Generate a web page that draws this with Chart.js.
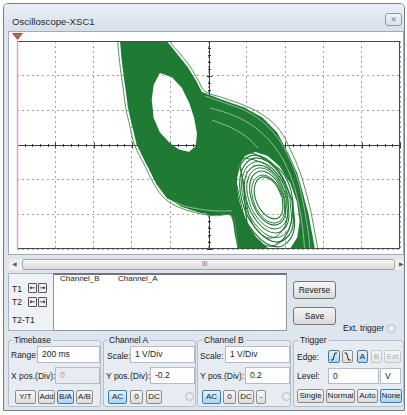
<!DOCTYPE html>
<html><head><meta charset="utf-8">
<script src="https://cdn.jsdelivr.net/npm/chart.js@4.4.1/dist/chart.umd.min.js"></script>
<style>
*{box-sizing:border-box}
body{margin:0;width:407px;height:415px;position:relative;overflow:hidden;background:#fff;font-family:"Liberation Sans",Arial,sans-serif;color:#1c1c1c}
.a{position:absolute}
.lbl{position:absolute;font-size:8.5px;line-height:10px;white-space:nowrap}
.inp{position:absolute;background:#fff;border:1px solid #b3bcc6;font-size:8.5px;line-height:15px;padding-left:4px;white-space:nowrap}
.btn{position:absolute;border:1px solid #8d8d8d;border-radius:2px;background:linear-gradient(#f7f7f7,#dcdcdc);font-size:8px;text-align:center;line-height:12px;height:14px;white-space:nowrap}
.btn.on{border-color:#3b7db3;background:linear-gradient(#e4f2fc,#a9d3f2)}
.btn.off{color:#a9b0b8;border-color:#c3c8cd;background:linear-gradient(#f5f6f7,#e6e9ec)}
.grp{position:absolute;top:340px;height:67px;border:1px solid #b4bec8;border-radius:3px;background:#e6ecf2}
.gt{position:absolute;top:335px;font-size:8.5px;line-height:10px;padding:0 2px;background:#dfe6ee}
.big{position:absolute;border:1px solid #777;border-radius:3px;background:linear-gradient(#f5f5f5,#dadada);font-size:8.5px;text-align:center;line-height:16px;height:18px;width:43px}
.arr{position:absolute;width:9px;height:10px;border:1px solid #555;border-radius:1px;background:#f2f2f2;font-family:"DejaVu Sans";font-size:7px;line-height:8px;text-align:center;font-weight:bold}
.radio{position:absolute;width:9px;height:9px;border-radius:50%;border:1px solid #b9bec4;background:radial-gradient(#f4f4f4,#d9dcdf)}
</style></head>
<body>
<!-- window chrome -->
<div class="a" style="left:3px;top:3px;width:402px;height:408px;border:1px solid #74808c;border-radius:5px 5px 0 0;background:#dde5ee"></div>
<div class="a" style="left:4px;top:4px;width:400px;height:27px;border-radius:4px 4px 0 0;background:linear-gradient(#e9eff6,#d6e0ea)"></div>
<div class="lbl" style="left:12px;top:16px;font-size:9.6px;line-height:11px;color:#2b2b2b">Oscilloscope-XSC1</div>
<div class="a" style="left:385px;top:13px;width:17px;height:13px;border:1px solid #8f9ba7;border-radius:3px;background:linear-gradient(#f2f5f8,#d8e0e9);font-family:'DejaVu Sans';font-size:8px;line-height:11px;text-align:center;color:#7a8591">✕</div>

<!-- plot panel -->
<div class="a" style="left:8px;top:31px;width:396px;height:224px;border:1px solid #a3abb4;background:#fff">
  <canvas id="scope" width="394" height="222" style="position:absolute;left:0;top:0"></canvas>
</div>

<!-- scrollbar -->
<div class="a" style="left:8px;top:258px;width:396px;height:13px;background:#f0f0f0;border:1px solid #e2e2e2"></div>
<div class="a" style="left:22px;top:259px;width:373px;height:11px;border:1px solid #a8a8a8;border-radius:2px;background:linear-gradient(#f6f6f6,#d9d9d9)"></div>
<div class="lbl" style="left:12px;top:259px;font-family:'DejaVu Sans';font-size:6px;color:#606060">◀</div>
<div class="lbl" style="left:202px;top:259px;font-size:6.5px;color:#6a6a6a">III</div>
<div class="lbl" style="left:399px;top:259px;font-family:'DejaVu Sans';font-size:6px;color:#606060">▶</div>

<!-- cursor / readout area -->
<div class="a" style="left:8px;top:273px;width:46px;height:58px;border:1px solid #a9b1ba;background:#eef2f6"></div>
<div class="a" style="left:53px;top:273px;width:234px;height:58px;border:1px solid #8f969d;border-top:2px solid #6f757b;background:#fff"></div>
<div class="lbl" style="left:12px;top:284px">T1</div>
<div class="lbl" style="left:12px;top:297px">T2</div>
<div class="lbl" style="left:12px;top:315px">T2-T1</div>
<div class="arr" style="left:28px;top:283px">←</div>
<div class="arr" style="left:38px;top:283px">→</div>
<div class="arr" style="left:28px;top:297px">←</div>
<div class="arr" style="left:38px;top:297px">→</div>
<div class="lbl" style="left:60px;top:274px;font-size:8px">Channel_B</div>
<div class="lbl" style="left:118px;top:274px;font-size:8px">Channel_A</div>
<div class="big" style="left:293px;top:281px">Reverse</div>
<div class="big" style="left:293px;top:307px">Save</div>
<div class="lbl" style="left:343px;top:323px">Ext. trigger</div>
<div class="radio" style="left:387px;top:324px"></div>

<!-- Timebase -->
<div class="grp" style="left:8px;width:93px"></div>
<div class="gt" style="left:12px">Timebase</div>
<div class="lbl" style="left:11px;top:350px">Range:</div>
<div class="inp" style="left:37px;top:346px;width:63px;height:17px">200 ms</div>
<div class="lbl" style="left:11px;top:371px">X pos.(Div):</div>
<div class="inp" style="left:55px;top:367px;width:45px;height:17px;background:#e8ecf0;color:#9aa3ac">0</div>
<div class="btn" style="left:15px;top:390px;width:21px">Y/T</div>
<div class="btn" style="left:38px;top:390px;width:17px">Add</div>
<div class="btn on" style="left:57px;top:390px;width:17px">B/A</div>
<div class="btn" style="left:76px;top:390px;width:17px">A/B</div>

<!-- Channel A -->
<div class="grp" style="left:103px;width:93px"></div>
<div class="gt" style="left:107px">Channel A</div>
<div class="lbl" style="left:107px;top:351px">Scale:</div>
<div class="inp" style="left:130px;top:346px;width:65px;height:17px">1 V/Div</div>
<div class="lbl" style="left:106px;top:371px">Y pos.(Div):</div>
<div class="inp" style="left:150px;top:367px;width:45px;height:17px">-0.2</div>
<div class="btn on" style="left:108px;top:390px;width:19px">AC</div>
<div class="btn" style="left:130px;top:390px;width:13px">0</div>
<div class="btn" style="left:146px;top:390px;width:16px">DC</div>
<div class="radio" style="left:185px;top:392px"></div>

<!-- Channel B -->
<div class="grp" style="left:197px;width:94px"></div>
<div class="gt" style="left:202px">Channel B</div>
<div class="lbl" style="left:200px;top:351px">Scale:</div>
<div class="inp" style="left:225px;top:346px;width:65px;height:17px">1 V/Div</div>
<div class="lbl" style="left:200px;top:371px">Y pos.(Div):</div>
<div class="inp" style="left:245px;top:367px;width:45px;height:17px">0.2</div>
<div class="btn on" style="left:202px;top:390px;width:19px">AC</div>
<div class="btn" style="left:223px;top:390px;width:13px">0</div>
<div class="btn" style="left:238px;top:390px;width:16px">DC</div>
<div class="btn" style="left:256px;top:390px;width:10px">-</div>
<div class="radio" style="left:282px;top:392px"></div>

<!-- Trigger -->
<div class="grp" style="left:293px;width:111px"></div>
<div class="gt" style="left:298px">Trigger</div>
<div class="lbl" style="left:297px;top:352px">Edge:</div>
<div class="btn on" style="left:328px;top:350px;width:12px;height:13px"><svg width="10" height="11" viewBox="0 0 10 11" style="display:block"><polyline points="2,9 4,9 6,2 8,2" fill="none" stroke="#222" stroke-width="1"/></svg></div>
<div class="btn" style="left:342px;top:350px;width:11px;height:13px"><svg width="9" height="11" viewBox="0 0 9 11" style="display:block"><polyline points="1.5,2 3.5,2 5.5,9 7.5,9" fill="none" stroke="#222" stroke-width="1"/></svg></div>
<div class="btn on" style="left:357px;top:350px;width:11px;height:13px">A</div>
<div class="btn off" style="left:371px;top:350px;width:11px;height:13px">B</div>
<div class="btn off" style="left:384px;top:350px;width:17px;height:13px">Ext</div>
<div class="lbl" style="left:297px;top:371px">Level:</div>
<div class="inp" style="left:328px;top:368px;width:51px;height:16px;line-height:14px">0</div>
<div class="inp" style="left:380px;top:368px;width:21px;height:16px;line-height:14px">V</div>
<div class="btn" style="left:297px;top:389px;width:27px">Single</div>
<div class="btn" style="left:326px;top:389px;width:29px">Normal</div>
<div class="btn" style="left:357px;top:389px;width:21px">Auto</div>
<div class="btn on" style="left:380px;top:389px;width:22px">None</div>

<script>
// ---- scope settings (1 V/Div, 10 x 6 divisions) ----
const xRange = [-5, 5];   // Channel A, volts
const yRange = [-3, 3];   // Channel B, volts
const divStep = 1;
const minorStep = 0.2;

// ---- traces, [Channel A (V), Channel B (V)] ----
const attractorOutline = [
  [-2.42,3.37],[-1.16,3.37],[-1.09,3.00],[-0.83,2.65],[-0.56,2.28],[-0.33,1.87],[-0.17,1.53],
  [0.30,1.33],[0.90,1.10],[1.42,0.78],[1.79,0.37],[2.07,-0.20],[2.31,-0.78],[2.46,-1.36],
  [2.60,-1.93],[2.70,-2.51],[2.78,-3.00],[2.80,-3.37],[0.82,-3.37],[0.77,-3.00],[0.69,-2.60],
  [0.64,-2.22],[0.58,-2.02],[0.17,-2.02],[-0.22,-1.96],[-0.69,-1.79],[-1.09,-1.53],[-1.35,-1.15],
  [-1.61,-0.58],[-1.87,0.00],[-2.00,0.58],[-2.10,1.07],[-2.18,1.73],[-2.26,2.39],[-2.31,3.00]
];
const leftScrollHole = [
  [-1.27,2.08],[-1.43,1.73],[-1.48,1.30],[-1.43,0.78],[-1.27,0.37],[-1.01,0.06],[-0.75,-0.14],
  [-0.51,-0.20],[-0.33,-0.03],[-0.30,0.35],[-0.38,0.81],[-0.51,1.24],[-0.69,1.64],[-0.96,1.96]
];
const rightScrollHole = [
  [2.31,-1.64],[2.13,-1.09],[1.86,-0.62],[1.54,-0.31],[1.22,-0.20],[0.96,-0.31],[0.79,-0.62],
  [0.73,-1.09],[0.79,-1.64],[0.98,-2.20],[1.25,-2.66],[1.56,-2.98],[1.88,-3.09],[2.14,-2.98],
  [2.32,-2.66],[2.38,-2.20]
];
const rightLoop0  = [[1.93,-1.53],[1.92,-1.96],[1.72,-2.13],[1.43,-1.96],[1.22,-1.53],[1.23,-1.10],[1.44,-0.92],[1.73,-1.10]];
const rightLoop0b = [[1.97,-1.56],[1.96,-2.05],[1.72,-2.25],[1.39,-2.05],[1.16,-1.56],[1.17,-1.07],[1.41,-0.87],[1.74,-1.07]];
const rightLoop1  = [[1.99,-1.53],[1.99,-2.08],[1.73,-2.31],[1.36,-2.08],[1.11,-1.53],[1.11,-0.98],[1.38,-0.75],[1.74,-0.98]];
const rightLoop1b = [[2.03,-1.54],[2.03,-2.17],[1.74,-2.42],[1.33,-2.17],[1.04,-1.54],[1.05,-0.92],[1.34,-0.66],[1.75,-0.92]];
const rightLoop2  = [[2.07,-1.56],[2.07,-2.25],[1.75,-2.54],[1.30,-2.25],[0.98,-1.56],[0.98,-0.87],[1.30,-0.58],[1.76,-0.87]];
const rightLoop2b = [[2.13,-1.57],[2.13,-2.35],[1.77,-2.67],[1.27,-2.35],[0.92,-1.57],[0.92,-0.80],[1.28,-0.48],[1.78,-0.80]];
const rightLoop3  = [[2.18,-1.59],[2.18,-2.44],[1.80,-2.80],[1.26,-2.44],[0.87,-1.59],[0.87,-0.73],[1.25,-0.37],[1.79,-0.73]];
const rightLoop3b = [[2.20,-1.62],[2.21,-2.55],[1.80,-2.94],[1.21,-2.55],[0.79,-1.62],[0.79,-0.68],[1.20,-0.29],[1.79,-0.68]];
const wedgeLoop1 = [
  [0.72,-0.14],[1.08,-0.20],[1.50,-0.43],[1.92,-0.78],[2.15,-1.30],[2.20,-1.93],[2.07,-2.51],
  [1.76,-2.88],[1.39,-2.86],[1.08,-2.51],[0.90,-1.93],[0.77,-1.30],[0.66,-0.66]
];
const wedgeLoop2 = [
  [0.82,-0.37],[1.19,-0.43],[1.55,-0.61],[1.86,-0.95],[2.05,-1.44],[2.07,-1.99],[1.94,-2.45],
  [1.66,-2.68],[1.37,-2.57],[1.13,-2.22],[1.00,-1.73],[0.92,-1.15],[0.85,-0.72]
];
const innerStrand = [[0.17,0.14],[0.56,-0.20],[0.82,-0.66],[0.92,-1.30],[0.98,-2.02],[1.08,-2.74],[1.16,-3.37]];
const leftEdgeStrand = [
  [-2.37,3.32],[-2.37,3.00],[-2.32,2.39],[-2.24,1.73],[-2.16,1.07],[-2.06,0.58],[-1.93,0.00],
  [-1.67,-0.58],[-1.41,-1.15],[-1.13,-1.56],[-0.74,-1.81],[-0.22,-1.98],[0.17,-2.04],[0.60,-2.04],
  [0.71,-2.43],[0.76,-3.00],[0.78,-3.37]
];
const rightEdgeStrand = [
  [-1.00,3.32],[-1.00,3.00],[-0.74,2.63],[-0.48,2.26],[-0.27,1.87],[-0.09,1.55],[0.36,1.37],
  [0.96,1.13],[1.48,0.82],[1.87,0.41],[2.15,-0.16],[2.38,-0.76],[2.54,-1.34],[2.67,-1.91],
  [2.77,-2.49],[2.85,-3.00],[2.88,-3.37]
];
// thin white gaps between bundles of traces inside the dense band
const bandGap1 = [[-0.09,1.41],[0.43,1.21],[0.98,0.98],[1.45,0.63],[1.81,0.20],[2.10,-0.35],[2.31,-0.92],[2.44,-1.50],[2.54,-2.08],[2.62,-2.65],[2.67,-3.37]];
const bandGap2 = [[0.04,1.07],[0.61,0.87],[1.08,0.61],[1.50,0.23],[1.84,-0.23],[2.10,-0.78],[2.28,-1.36],[2.41,-2.02],[2.49,-2.74],[2.52,-3.37]];
const bandGap3 = [[0.09,0.72],[0.61,0.49],[1.03,0.20],[1.29,-0.09]];
const bandGap4 = [[-1.01,-1.59],[-0.62,-1.76],[-0.22,-1.85],[0.17,-1.90],[0.61,-1.90]];

const TRACE = '#1f7a33';
const GAP = 'rgba(255,255,255,0.55)';
const toPts = arr => arr.map(([x, y]) => ({x, y}));
const loop = arr => toPts(arr.concat([arr[0]]));
// one outline with the two scroll holes cut out (keyhole path)
const massPath = [...attractorOutline, attractorOutline[0],
  ...leftScrollHole, leftScrollHole[0], attractorOutline[0],
  ...rightScrollHole, rightScrollHole[0], attractorOutline[0]];

const lineDs = (data, color, width, order) => ({
  data, showLine: true, borderColor: color, borderWidth: width, pointRadius: 0,
  tension: 0.4, fill: false, order
});

const scopeDecor = {
  id: 'scopeDecor',
  beforeDatasetsDraw(chart) {
    const {ctx, chartArea: a, scales: {x, y}} = chart;
    const x0 = Math.round(x.getPixelForValue(0)) + 0.5;
    const y0 = Math.round(y.getPixelForValue(0)) + 0.5;
    ctx.save();
    ctx.strokeStyle = '#3c3c3c';
    ctx.lineWidth = 1;
    ctx.beginPath();
    ctx.moveTo(a.left, y0); ctx.lineTo(a.right, y0);
    ctx.moveTo(x0, a.top); ctx.lineTo(x0, a.bottom);
    for (let v = xRange[0]; v <= xRange[1] + 1e-9; v += minorStep) {
      const p = Math.round(x.getPixelForValue(v)) + 0.5;
      const major = Math.abs(v - Math.round(v)) < 1e-6;
      ctx.moveTo(p, y0 - (major ? 3 : 1.5)); ctx.lineTo(p, y0 + (major ? 3 : 1.5));
    }
    for (let v = yRange[0]; v <= yRange[1] + 1e-9; v += minorStep) {
      const p = Math.round(y.getPixelForValue(v)) + 0.5;
      const major = Math.abs(v - Math.round(v)) < 1e-6;
      ctx.moveTo(x0 - (major ? 3 : 1.5), p); ctx.lineTo(x0 + (major ? 3 : 1.5), p);
    }
    ctx.stroke();
    ctx.restore();
  },
  afterDatasetsDraw(chart) {
    const {ctx, chartArea: a} = chart;
    ctx.save();
    ctx.strokeStyle = '#4a4a4a';
    ctx.lineWidth = 1;
    ctx.strokeRect(a.left + 0.5, a.top + 0.5, a.right - a.left - 1, a.bottom - a.top - 1);
    ctx.strokeStyle = '#d9a3d0';
    ctx.lineWidth = 1.5;
    ctx.beginPath(); ctx.moveTo(a.left + 0.5, a.top); ctx.lineTo(a.left + 0.5, a.bottom); ctx.stroke();
    ctx.fillStyle = '#d63b2b';
    ctx.beginPath(); ctx.moveTo(a.left - 5, a.top - 8); ctx.lineTo(a.left + 6, a.top - 8); ctx.lineTo(a.left + 0.5, a.top - 1); ctx.closePath(); ctx.fill();
    ctx.fillStyle = '#5aa04a';
    ctx.beginPath(); ctx.moveTo(a.left - 2.5, a.top - 7); ctx.lineTo(a.left + 3.5, a.top - 7); ctx.lineTo(a.left + 0.5, a.top - 3); ctx.closePath(); ctx.fill();
    ctx.restore();
  }
};

new Chart(document.getElementById('scope'), {
  type: 'scatter',
  data: {
    datasets: [
      lineDs(toPts(bandGap1), GAP, 0.9, 0),
      lineDs(toPts(bandGap2), GAP, 0.9, 0),
      lineDs(toPts(bandGap3), GAP, 0.9, 0),
      lineDs(toPts(bandGap4), GAP, 0.9, 0),
      lineDs(toPts(innerStrand), TRACE, 1.2, 1),
      lineDs(loop(rightLoop0), TRACE, 1.1, 1),
      lineDs(loop(rightLoop0b), TRACE, 1.0, 1),
      lineDs(loop(rightLoop1), TRACE, 1.1, 1),
      lineDs(loop(rightLoop1b), TRACE, 1.0, 1),
      lineDs(loop(rightLoop2), TRACE, 1.1, 1),
      lineDs(loop(rightLoop2b), TRACE, 1.0, 1),
      lineDs(loop(rightLoop3), TRACE, 1.2, 1),
      lineDs(loop(rightLoop3b), TRACE, 1.2, 1),
      lineDs(loop(wedgeLoop1), TRACE, 1.1, 1),
      lineDs(loop(wedgeLoop2), TRACE, 1.0, 1),
      lineDs(toPts(leftEdgeStrand), '#4d9559', 1, 2),
      lineDs(toPts(rightEdgeStrand), '#4d9559', 1, 2),
      {
        data: toPts(massPath), showLine: true, fill: 'shape', backgroundColor: TRACE,
        borderColor: 'rgba(0,0,0,0)', borderWidth: 0, pointRadius: 0, tension: 0.0001, order: 10
      }
    ]
  },
  options: {
    responsive: false,
    animation: false,
    events: [],
    layout: {padding: {left: 8, top: 9, right: 3, bottom: 5}},
    elements: {line: {capBezierPoints: false}},
    plugins: {legend: {display: false}, tooltip: {enabled: false}},
    scales: {
      x: {
        type: 'linear', min: xRange[0], max: xRange[1],
        ticks: {display: false, stepSize: divStep},
        grid: {color: '#a2a2a2', lineWidth: 1, drawTicks: false},
        border: {display: false, dash: [2, 3]}
      },
      y: {
        type: 'linear', min: yRange[0], max: yRange[1],
        ticks: {display: false, stepSize: divStep},
        grid: {color: '#a2a2a2', lineWidth: 1, drawTicks: false},
        border: {display: false, dash: [2, 3]}
      }
    }
  },
  plugins: [scopeDecor]
});
</script>
</body></html>
